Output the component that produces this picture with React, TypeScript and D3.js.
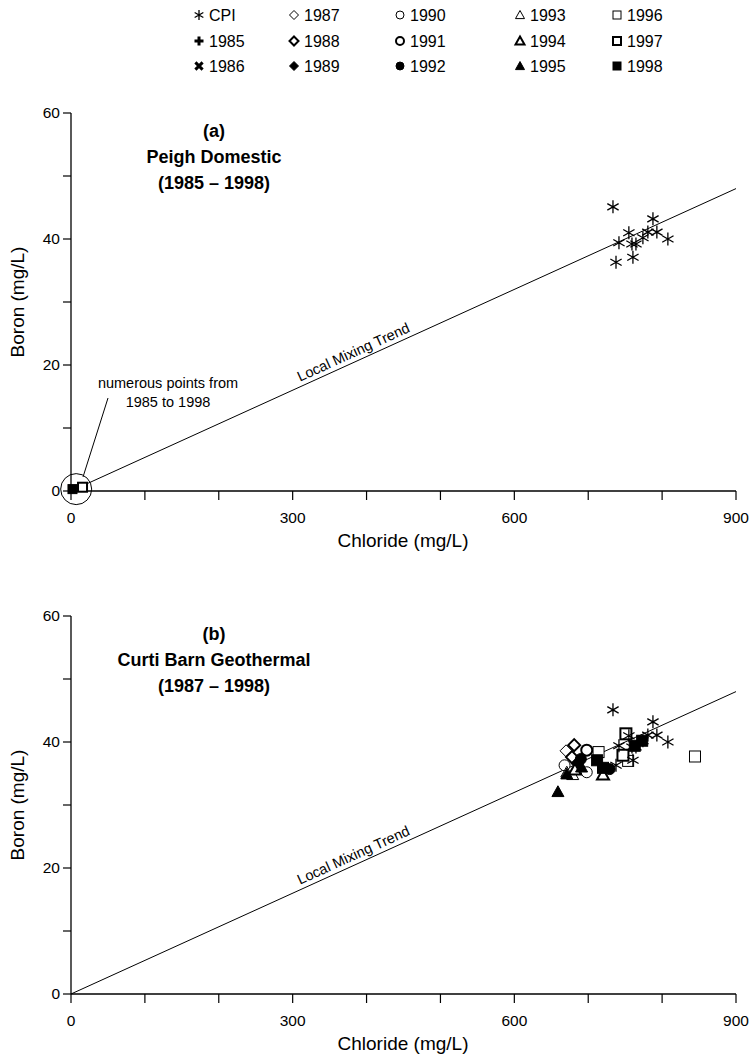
import React from 'react';
import * as d3 from 'd3';

const FONT = '"Liberation Sans", Arial, Helvetica, sans-serif';

// axis ticks
const X_TICKS = [0, 100, 200, 300, 400, 500, 600, 700, 800, 900];
const X_LABELS = [0, 300, 600, 900];
const Y_TICKS = [0, 10, 20, 30, 40, 50, 60];
const Y_LABELS = [0, 20, 40, 60];

// local mixing trend end point (chloride, boron)
const TREND_END = [900, 48];

// CPI samples (chloride, boron) - same in both panels
const CPI = [
  [733.5, 45.1], [787.6, 43.2], [755, 41.0], [780.7, 41.1], [792.9, 41.1],
  [807.8, 40.0], [774, 40.2], [741.6, 39.4], [759.2, 39.2], [764.6, 39.2],
  [760.5, 37.1], [737.6, 36.3],
];

// Peigh Domestic well samples
const PEIGH = {
  '1997': [[15.6, 0.6]],
  '1998': [[2, 0.3]],
};

// Curti Barn Geothermal samples
const CURTI = {
  '1987': [[670, 38.6]],
  '1988': [[681, 39.5], [678, 37.6]],
  '1989': [[685, 36.6]],
  '1990': [[668, 36.3], [698, 35.2]],
  '1991': [[698, 38.7]],
  '1992': [[690, 37.3], [729, 35.7]],
  '1993': [[671, 35.2], [679, 34.8]],
  '1994': [[682, 35.6], [720, 34.8]],
  '1995': [[671, 34.9], [691, 36.0], [659, 32.1]],
  '1996': [[714, 38.4], [754, 37.0], [844.5, 37.7]],
  '1997': [[751, 41.3], [747, 37.9]],
  '1998': [[773, 40.2], [763, 39.4], [720, 35.9], [712, 37.1]],
};

const LEGEND_COLS = [
  ['CPI', '1985', '1986'],
  ['1987', '1988', '1989'],
  ['1990', '1991', '1992'],
  ['1993', '1994', '1995'],
  ['1996', '1997', '1998'],
];

const STYLE = {
  CPI: { shape: 'asterisk', mode: 'thin' },
  '1985': { shape: 'plus', mode: 'bold' },
  '1986': { shape: 'cross', mode: 'bold' },
  '1987': { shape: 'diamond', mode: 'thin' },
  '1988': { shape: 'diamond', mode: 'bold' },
  '1989': { shape: 'diamond', mode: 'filled' },
  '1990': { shape: 'circle', mode: 'thin' },
  '1991': { shape: 'circle', mode: 'bold' },
  '1992': { shape: 'circle', mode: 'filled' },
  '1993': { shape: 'triangle', mode: 'thin' },
  '1994': { shape: 'triangle', mode: 'bold' },
  '1995': { shape: 'triangle', mode: 'filled' },
  '1996': { shape: 'square', mode: 'thin' },
  '1997': { shape: 'square', mode: 'bold' },
  '1998': { shape: 'square', mode: 'filled' },
};

function Marker({ k, x, y, r = 5 }) {
  const st = STYLE[k];
  const sw = st.mode === 'bold' ? 2 : 1;
  const fill = st.mode === 'filled' ? '#000' : '#fff';
  const common = { stroke: '#000', strokeWidth: sw, fill };
  const t = `translate(${x},${y})`;
  switch (st.shape) {
    case 'diamond':
      return <path transform={t} d={`M0,${-r}L${r},0L0,${r}L${-r},0Z`} {...common} />;
    case 'circle':
      return <circle cx={x} cy={y} r={r - 0.5} {...common} />;
    case 'triangle':
      return <path transform={t} d={`M0,${-r}L${r},${r * 0.8}L${-r},${r * 0.8}Z`} {...common} />;
    case 'square':
      return <rect x={x - r + 0.5} y={y - r + 0.5} width={2 * r - 1} height={2 * r - 1} {...common} />;
    case 'plus':
      return <path transform={t} d={`M${-r},0H${r}M0,${-r}V${r}`} stroke="#000" strokeWidth={3} />;
    case 'cross':
      return <path transform={t} d={`M${-r * 0.8},${-r * 0.8}L${r * 0.8},${r * 0.8}M${r * 0.8},${-r * 0.8}L${-r * 0.8},${r * 0.8}`} stroke="#000" strokeWidth={3} />;
    default: {
      const a = r * 0.87, b = r * 0.5;
      return <path transform={t} d={`M0,${-r}V${r}M${-a},${-b}L${a},${b}M${a},${-b}L${-a},${b}`} stroke="#000" strokeWidth={1.3} fill="none" />;
    }
  }
}

function Panel({ top, bottom, title, series, annotate }) {
  const x = d3.scaleLinear().domain([0, 900]).range([71, 736]);
  const y = d3.scaleLinear().domain([0, 60]).range([bottom, top]);
  const ang = (Math.atan2(y(0) - y(TREND_END[1]), x(TREND_END[0]) - x(0)) * 180) / Math.PI;
  const lx = x(385), ly = y(385 * TREND_END[1] / TREND_END[0]) - 5;
  return (
    <g>
      <line x1={x(0)} y1={y(0)} x2={x(TREND_END[0])} y2={y(TREND_END[1])} stroke="#000" strokeWidth={1} />
      <text x={lx} y={ly} transform={`rotate(${-ang},${lx},${ly})`} textAnchor="middle" fontSize={14.5} fontFamily={FONT}>Local Mixing Trend</text>
      {/* axes */}
      <line x1={x(0)} x2={x(900)} y1={y(0)} y2={y(0)} stroke="#000" strokeWidth={1.3} />
      <line x1={x(0)} x2={x(0)} y1={y(0)} y2={y(60)} stroke="#000" strokeWidth={1.3} />
      {X_TICKS.map(t => <line key={t} x1={x(t)} x2={x(t)} y1={y(0)} y2={y(0) + 9} stroke="#000" strokeWidth={1.2} />)}
      {Y_TICKS.map(t => <line key={t} x1={x(0) - 8} x2={x(0)} y1={y(t)} y2={y(t)} stroke="#000" strokeWidth={1.2} />)}
      {X_LABELS.map(t => <text key={t} x={x(t)} y={y(0) + 32} textAnchor="middle" fontSize={15.5} fontFamily={FONT}>{t}</text>)}
      {Y_LABELS.map(t => <text key={t} x={x(0) - 11} y={y(t) + 5} textAnchor="end" fontSize={15.5} fontFamily={FONT}>{t}</text>)}
      <text x={403} y={y(0) + 56} textAnchor="middle" fontSize={19} fontFamily={FONT}>Chloride (mg/L)</text>
      <text transform={`translate(24,${(y(0) + y(60)) / 2}) rotate(-90)`} textAnchor="middle" fontSize={19} fontFamily={FONT}>Boron (mg/L)</text>
      {title.map((s, i) => (
        <text key={i} x={214} y={top + 24 + i * 26} textAnchor="middle" fontSize={18} fontWeight="bold" fontFamily={FONT}>{s}</text>
      ))}
      {annotate && (
        <g>
          <circle cx={x(7)} cy={y(0.3)} r={15.5} fill="none" stroke="#000" strokeWidth={1} />
          <line x1={83} y1={y(0) - 14} x2={108} y2={398} stroke="#000" strokeWidth={1} />
          <text x={168} y={388} textAnchor="middle" fontSize={14.5} fontFamily={FONT}>numerous points from</text>
          <text x={168} y={407} textAnchor="middle" fontSize={14.5} fontFamily={FONT}>1985 to 1998</text>
        </g>
      )}
      {Object.entries(series).map(([k, pts]) =>
        pts.map((p, i) => <Marker key={k + i} k={k} x={x(p[0])} y={y(p[1])} r={annotate ? 5 : 6} />)
      )}
      {CPI.map((p, i) => <Marker key={'c' + i} k="CPI" x={x(p[0])} y={y(p[1])} r={6.5} />)}
    </g>
  );
}

export default function App() {
  const colX = [199, 294, 400, 520, 617];
  const rowY = [15, 41, 66];
  return (
    <svg width={750} height={1055} style={{ position: 'absolute', left: 0, top: 0, background: '#fff' }}>
      <rect width={750} height={1055} fill="#fff" />
      {LEGEND_COLS.map((col, ci) =>
        col.map((k, ri) => (
          <g key={k}>
            <Marker k={k} x={colX[ci]} y={rowY[ri]} r={k === 'CPI' ? 5 : 4.5} />
            <text x={colX[ci] + 10} y={rowY[ri] + 5.5} fontSize={16} fontFamily={FONT}>{k}</text>
          </g>
        ))
      )}
      <Panel top={113} bottom={491} title={['(a)', 'Peigh Domestic', '(1985 \u2013 1998)']} series={PEIGH} annotate />
      <Panel top={616} bottom={994} title={['(b)', 'Curti Barn Geothermal', '(1987 \u2013 1998)']} series={CURTI} annotate={false} />
    </svg>
  );
}
